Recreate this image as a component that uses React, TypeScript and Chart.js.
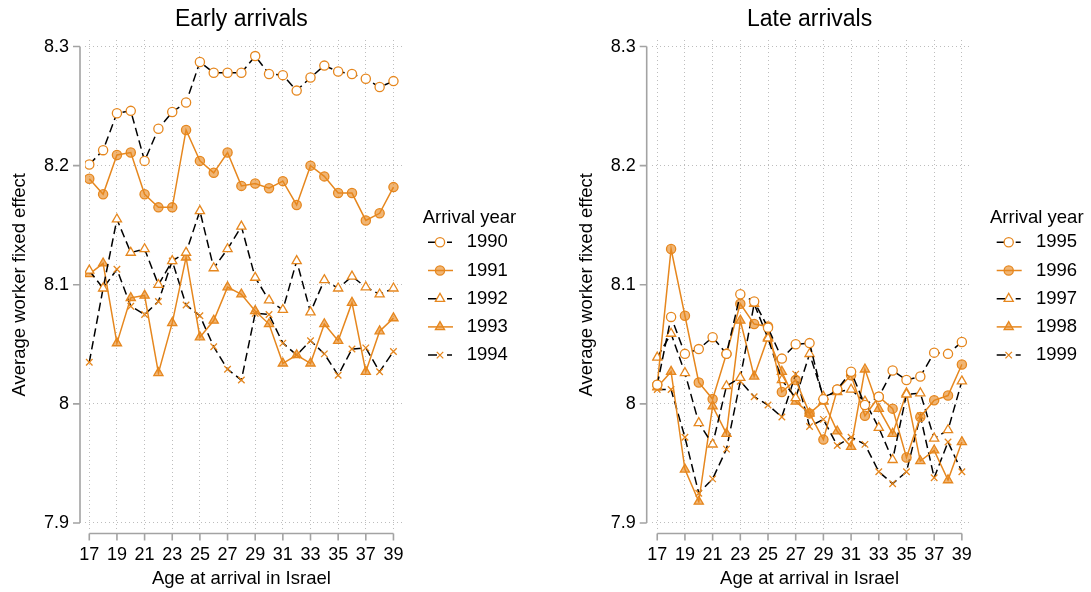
import React, { useEffect, useRef } from "react";
import { Chart, registerables } from "chart.js";

Chart.register(...registerables);

// ---------- data ----------
const ages = [17, 18, 19, 20, 21, 22, 23, 24, 25, 26, 27, 28, 29, 30, 31, 32, 33, 34, 35, 36, 37, 38, 39];
const xTicks = [17, 19, 21, 23, 25, 27, 29, 31, 33, 35, 37, 39];
const yTicks = [7.9, 8, 8.1, 8.2, 8.3];

const earlyYears = ["1990", "1991", "1992", "1993", "1994"];
const lateYears = ["1995", "1996", "1997", "1998", "1999"];

const y1990 = [8.201, 8.213, 8.244, 8.246, 8.204, 8.231, 8.245, 8.253, 8.287, 8.278, 8.278, 8.278, 8.292, 8.277, 8.276, 8.263, 8.274, 8.284, 8.279, 8.277, 8.273, 8.266, 8.271];
const y1991 = [8.189, 8.176, 8.209, 8.211, 8.176, 8.165, 8.165, 8.230, 8.204, 8.194, 8.211, 8.183, 8.185, 8.181, 8.187, 8.167, 8.200, 8.191, 8.177, 8.177, 8.154, 8.160, 8.182];
const y1992 = [8.112, 8.097, 8.155, 8.127, 8.130, 8.100, 8.120, 8.127, 8.162, 8.114, 8.130, 8.149, 8.106, 8.087, 8.079, 8.120, 8.077, 8.104, 8.097, 8.107, 8.098, 8.092, 8.097];
const y1993 = [8.109, 8.118, 8.051, 8.089, 8.091, 8.026, 8.068, 8.123, 8.056, 8.070, 8.098, 8.092, 8.078, 8.067, 8.034, 8.041, 8.034, 8.067, 8.053, 8.085, 8.027, 8.061, 8.072];
const y1994 = [8.035, 8.097, 8.113, 8.082, 8.075, 8.086, 8.120, 8.083, 8.074, 8.048, 8.029, 8.020, 8.076, 8.075, 8.051, 8.041, 8.053, 8.042, 8.024, 8.046, 8.047, 8.027, 8.044];

const y1995 = [8.016, 8.073, 8.042, 8.046, 8.056, 8.042, 8.092, 8.086, 8.064, 8.038, 8.050, 8.051, 8.004, 8.012, 8.027, 7.999, 8.006, 8.028, 8.020, 8.023, 8.043, 8.042, 8.052];
const y1996 = [8.016, 8.130, 8.074, 8.018, 8.004, 8.042, 8.084, 8.067, 8.065, 8.010, 8.020, 7.992, 7.970, 8.012, 8.024, 7.990, 8.006, 7.996, 7.955, 7.989, 8.003, 8.007, 8.033];
const y1997 = [8.039, 8.059, 8.026, 7.984, 7.966, 8.015, 8.022, 8.084, 8.055, 8.020, 8.005, 8.042, 8.006, 8.010, 8.012, 8.002, 7.980, 7.953, 8.008, 8.009, 7.971, 7.978, 8.019];
const y1998 = [8.014, 8.027, 7.945, 7.918, 7.998, 7.975, 8.070, 8.023, 8.056, 8.027, 8.002, 7.992, 8.002, 7.977, 7.964, 8.029, 7.996, 7.975, 8.009, 7.952, 7.961, 7.936, 7.968];
const y1999 = [8.012, 8.012, 7.972, 7.925, 7.937, 7.962, 8.019, 8.006, 7.999, 7.989, 8.025, 7.981, 7.987, 7.965, 7.972, 7.966, 7.943, 7.933, 7.943, 7.990, 7.938, 7.968, 7.943];

const earlySeries = [y1990, y1991, y1992, y1993, y1994];
const lateSeries = [y1995, y1996, y1997, y1998, y1999];

// ---------- styles ----------
const FONT = '"Liberation Sans", Arial, Helvetica, sans-serif';
const ORANGE = "rgb(230,135,30)";
const ORANGE_FILL = "rgba(230,135,30,0.62)";
const AXIS = "#a3a3a3";
const GRID = "#bdbdbd";

type Marker = "circle" | "triangle" | "crossRot";
type SeriesStyle = { dashed: boolean; marker: Marker; filled: boolean };
const seriesStyles: SeriesStyle[] = [
  { dashed: true, marker: "circle", filled: false },
  { dashed: false, marker: "circle", filled: true },
  { dashed: true, marker: "triangle", filled: false },
  { dashed: false, marker: "triangle", filled: true },
  { dashed: true, marker: "crossRot", filled: false },
];
const markerRadius: Record<Marker, number> = { circle: 4.6, triangle: 5.3, crossRot: 4.6 };

type PanelCfg = {
  title: string;
  years: string[];
  series: number[][];
  width: number;
  yAxisWidth: number;
  padRight: number;
  xMin: number;
  xMax: number;
  yTitleX: number;
  legendTitleX: number;
  legendSymX0: number;
  legendTextX: number;
};

const leftCfg: PanelCfg = {
  title: "Early arrivals",
  years: earlyYears,
  series: earlySeries,
  width: 545,
  yAxisWidth: 85,
  padRight: 142,
  xMin: 16.69,
  xMax: 39.69,
  yTitleX: 20,
  legendTitleX: 422.7,
  legendSymX0: 428,
  legendTextX: 466.7,
};

const rightCfg: PanelCfg = {
  title: "Late arrivals",
  years: lateYears,
  series: lateSeries,
  width: 546,
  yAxisWidth: 106.7,
  padRight: 120,
  xMin: 16.6,
  xMax: 39.66,
  yTitleX: 42,
  legendTitleX: 445,
  legendSymX0: 451.7,
  legendTextX: 491,
};

function drawMarker(ctx: CanvasRenderingContext2D, m: Marker, filled: boolean, x: number, y: number) {
  const r = markerRadius[m];
  ctx.save();
  ctx.setLineDash([]);
  ctx.lineWidth = 1.3;
  ctx.strokeStyle = ORANGE;
  ctx.fillStyle = filled ? ORANGE_FILL : "#fff";
  ctx.beginPath();
  if (m === "circle") {
    ctx.arc(x, y, r, 0, Math.PI * 2);
    ctx.closePath();
    ctx.fill();
    ctx.stroke();
  } else if (m === "triangle") {
    for (let k = 0; k < 3; k++) {
      const a = (k * 2 * Math.PI) / 3;
      const px = x + Math.sin(a) * r;
      const py = y - Math.cos(a) * r;
      if (k === 0) ctx.moveTo(px, py);
      else ctx.lineTo(px, py);
    }
    ctx.closePath();
    ctx.fill();
    ctx.stroke();
  } else {
    const o = r * Math.SQRT1_2;
    ctx.moveTo(x - o, y - o);
    ctx.lineTo(x + o, y + o);
    ctx.moveTo(x + o, y - o);
    ctx.lineTo(x - o, y + o);
    ctx.stroke();
  }
  ctx.restore();
}

function makeDecor(cfg: PanelCfg) {
  return {
    id: "decor",
    afterDraw(chart: any) {
      const ctx: CanvasRenderingContext2D = chart.ctx;
      const xs = chart.scales.x;
      const ys = chart.scales.y;
      const ca = chart.chartArea;
      ctx.save();
      // axis lines
      ctx.strokeStyle = AXIS;
      ctx.lineWidth = 1.6;
      ctx.setLineDash([]);
      const ax = ca.left - 5;
      const yTop = ys.getPixelForValue(yTicks[yTicks.length - 1]);
      const yBot = ys.getPixelForValue(yTicks[0]);
      ctx.beginPath();
      ctx.moveTo(ax, yTop);
      ctx.lineTo(ax, yBot);
      yTicks.forEach((v) => {
        const p = ys.getPixelForValue(v);
        ctx.moveTo(ax - 7, p);
        ctx.lineTo(ax, p);
      });
      const ay = ca.bottom + 3.5;
      const xL = xs.getPixelForValue(xTicks[0]);
      const xR = xs.getPixelForValue(xTicks[xTicks.length - 1]);
      ctx.moveTo(xL, ay);
      ctx.lineTo(xR, ay);
      xTicks.forEach((v) => {
        const p = xs.getPixelForValue(v);
        ctx.moveTo(p, ay);
        ctx.lineTo(p, ay + 7);
      });
      ctx.stroke();

      // titles
      const xMid = (xL + xR) / 2;
      ctx.fillStyle = "#000";
      ctx.textAlign = "center";
      ctx.textBaseline = "middle";
      ctx.font = `23px ${FONT}`;
      ctx.fillText(cfg.title, xMid, 20);
      ctx.font = `18.5px ${FONT}`;
      ctx.fillText("Age at arrival in Israel", xMid, 579);
      ctx.save();
      ctx.translate(cfg.yTitleX, (yTop + yBot) / 2);
      ctx.rotate(-Math.PI / 2);
      ctx.fillText("Average worker fixed effect", 0, 0);
      ctx.restore();

      // legend
      ctx.textAlign = "left";
      ctx.font = `18.5px ${FONT}`;
      ctx.fillText("Arrival year", cfg.legendTitleX, 217.7);
      cfg.years.forEach((yr, i) => {
        const st = seriesStyles[i];
        const y = 242.3 + 28.2 * i;
        const x0 = cfg.legendSymX0;
        const xm = x0 + 12;
        ctx.save();
        ctx.lineWidth = 1.5;
        ctx.setLineDash([]);
        ctx.beginPath();
        if (st.dashed) {
          ctx.strokeStyle = "#000";
          ctx.moveTo(x0, y);
          ctx.lineTo(x0 + 9, y);
          ctx.moveTo(x0 + 19, y);
          ctx.lineTo(x0 + 24, y);
        } else {
          ctx.strokeStyle = ORANGE;
          ctx.moveTo(x0, y);
          ctx.lineTo(x0 + 25, y);
        }
        ctx.stroke();
        ctx.restore();
        drawMarker(ctx, st.marker, st.filled, xm, y);
        ctx.fillStyle = "#000";
        ctx.fillText(yr, cfg.legendTextX, y);
      });
      ctx.restore();
    },
  };
}

function makeChart(canvas: HTMLCanvasElement, cfg: PanelCfg) {
  const datasets = cfg.series.map((vals, i) => {
    const st = seriesStyles[i];
    return {
      label: cfg.years[i],
      data: vals.map((v, k) => ({ x: ages[k], y: v })),
      borderColor: st.dashed ? "#000" : ORANGE,
      borderWidth: 1.5,
      borderDash: st.dashed ? [8.5, 4.5] : [],
      pointStyle: st.marker,
      pointRadius: markerRadius[st.marker],
      pointBorderColor: ORANGE,
      pointBackgroundColor: st.filled ? ORANGE_FILL : "#fff",
      pointBorderWidth: 1.3,
      tension: 0,
      fill: false,
    };
  });
  return new Chart(canvas, {
    type: "line",
    data: { datasets: datasets as any },
    options: {
      responsive: false,
      animation: false,
      events: [],
      layout: { padding: { top: 40, right: cfg.padRight, bottom: 0, left: 0 } },
      plugins: {
        legend: { display: false },
        title: { display: false },
        tooltip: { enabled: false },
      },
      scales: {
        x: {
          type: "linear",
          min: cfg.xMin,
          max: cfg.xMax,
          afterBuildTicks: (s: any) => {
            s.ticks = xTicks.map((v) => ({ value: v }));
          },
          afterFit: (s: any) => {
            s.height = 62;
          },
          grid: { color: GRID, lineWidth: 1, drawTicks: false },
          border: { display: false, dash: [1, 3] },
          ticks: {
            autoSkip: false,
            maxRotation: 0,
            padding: 14,
            color: "#000",
            font: { family: FONT, size: 18 },
            callback: (v: any) => String(v),
          },
        },
        y: {
          type: "linear",
          min: 7.8941,
          max: 8.3055,
          afterBuildTicks: (s: any) => {
            s.ticks = yTicks.map((v) => ({ value: v }));
          },
          afterFit: (s: any) => {
            s.width = cfg.yAxisWidth;
          },
          grid: { color: GRID, lineWidth: 1, drawTicks: false },
          border: { display: false, dash: [1, 3] },
          ticks: {
            padding: 16,
            color: "#000",
            font: { family: FONT, size: 18 },
            callback: (v: any) => String(Math.round(Number(v) * 10) / 10),
          },
        },
      },
    } as any,
    plugins: [makeDecor(cfg)],
  });
}

export default function App() {
  const leftRef = useRef<HTMLCanvasElement>(null);
  const rightRef = useRef<HTMLCanvasElement>(null);
  useEffect(() => {
    const c1 = makeChart(leftRef.current!, leftCfg);
    const c2 = makeChart(rightRef.current!, rightCfg);
    return () => {
      c1.destroy();
      c2.destroy();
    };
  }, []);
  return (
    <div style={{ position: "fixed", left: 0, top: 0, width: 1091, height: 592, background: "#fff" }}>
      <canvas
        ref={leftRef}
        width={leftCfg.width}
        height={592}
        style={{ position: "absolute", left: 0, top: 0, width: leftCfg.width, height: 592 }}
      />
      <canvas
        ref={rightRef}
        width={rightCfg.width}
        height={592}
        style={{ position: "absolute", left: 545, top: 0, width: rightCfg.width, height: 592 }}
      />
    </div>
  );
}
